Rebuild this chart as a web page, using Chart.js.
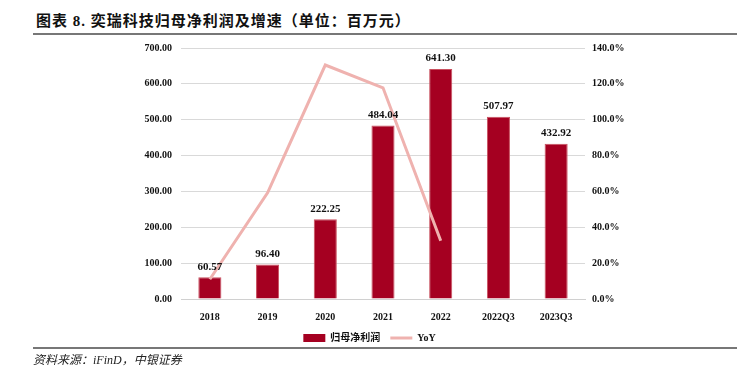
<!DOCTYPE html>
<html>
<head>
<meta charset="utf-8">
<script src="https://cdn.jsdelivr.net/npm/chart.js@4.4.0/dist/chart.umd.min.js"></script>
<style>
  html, body { margin: 0; padding: 0; background: #fff; }
  #wrap { position: relative; width: 739px; height: 375px; overflow: hidden; }
  #chart { position: absolute; left: 0; top: 0; }
  .title {
    position: absolute; left: 36px; top: 9px;
    font: bold 15px "Liberation Serif", "Noto Sans CJK SC", serif; color: #111;
    letter-spacing: 1px;
  }
  .rule { position: absolute; left: 33px; width: 704px; height: 2px; background: #777; }
  .source {
    position: absolute; left: 33px; top: 350px;
    font: italic 12px "Liberation Serif", "Noto Sans CJK SC", serif; color: #222;
  }
</style>
</head>
<body>
<div id="wrap">
  <div class="title">图表 8. 奕瑞科技归母净利润及增速（单位：百万元）</div>
  <div class="rule" style="top:33px"></div>
  <canvas id="chart" width="739" height="375"></canvas>
  <div class="rule" style="top:347px"></div>
  <div class="source">资料来源：iFinD，中银证券</div>
</div>
<script>
const categories = ['2018', '2019', '2020', '2021', '2022', '2022Q3', '2023Q3'];
const netProfit = [60.57, 96.40, 222.25, 484.04, 641.30, 507.97, 432.92];
const yoy = [11.0, 59.2, 130.5, 117.8, 32.5, null, null];
const leftTicks = [0, 100, 200, 300, 400, 500, 600, 700];
const rightTicks = [0, 20, 40, 60, 80, 100, 120, 140];

const serif = '"Liberation Serif", "Noto Sans CJK SC", serif';

const barLabels = {
  id: 'barLabels',
  afterDatasetsDraw(chart) {
    const ctx = chart.ctx;
    const meta = chart.getDatasetMeta(0);
    ctx.save();
    ctx.font = 'bold 11px ' + serif;
    ctx.fillStyle = '#111';
    ctx.textAlign = 'center';
    ctx.textBaseline = 'bottom';
    meta.data.forEach((bar, i) => {
      ctx.fillText(netProfit[i].toFixed(2), bar.x, bar.y - 5);
    });
    ctx.restore();
  }
};

new Chart(document.getElementById('chart'), {
  type: 'bar',
  data: {
    labels: categories,
    datasets: [
      {
        label: '归母净利润',
        data: netProfit,
        backgroundColor: '#A50021',
        borderColor: '#C9505F',
        borderWidth: 1,
        categoryPercentage: 1,
        barPercentage: 0.4,
        yAxisID: 'y',
        order: 2
      },
      {
        type: 'line',
        label: 'YoY',
        data: yoy,
        borderColor: '#EFB2AF',
        backgroundColor: '#EFB2AF',
        borderWidth: 3,
        pointRadius: 0,
        tension: 0,
        yAxisID: 'y1',
        order: 1
      }
    ]
  },
  options: {
    responsive: false,
    animation: false,
    layout: { padding: { top: 48, bottom: 22, left: 0, right: 0 } },
    plugins: {
      tooltip: { enabled: false },
      legend: {
        position: 'bottom',
        labels: {
          usePointStyle: true,
          pointStyleWidth: 22,
          boxHeight: 8,
          padding: 10,
          color: '#111',
          font: { family: serif, size: 10, weight: 'bold' },
          generateLabels(chart) {
            return chart.data.datasets.map((ds, i) => ({
              text: ds.label,
              fillStyle: ds.backgroundColor,
              strokeStyle: ds.type === 'line' ? ds.borderColor : ds.backgroundColor,
              lineWidth: ds.type === 'line' ? 3 : 0,
              pointStyle: ds.type === 'line' ? 'line' : 'rect',
              datasetIndex: i,
              fontColor: '#111'
            }));
          }
        }
      }
    },
    scales: {
      x: {
        grid: { display: false },
        border: { color: '#D0D0D0' },
        ticks: { color: '#111', font: { family: serif, size: 10, weight: 'bold' }, padding: 4 },
        afterFit(axis) { axis.height = 24; }
      },
      y: {
        position: 'left',
        min: 0,
        max: 700,
        afterBuildTicks(axis) { axis.ticks = leftTicks.map(v => ({ value: v })); },
        grid: { color: '#D9D9D9', lineWidth: 1, drawTicks: false },
        border: { display: false },
        ticks: {
          color: '#111',
          padding: 9,
          font: { family: serif, size: 10, weight: 'bold' },
          callback: v => v.toFixed(2)
        },
        afterFit(axis) { axis.width = 181; }
      },
      y1: {
        position: 'right',
        min: 0,
        max: 140,
        afterBuildTicks(axis) { axis.ticks = rightTicks.map(v => ({ value: v })); },
        grid: { display: false, drawTicks: false },
        border: { display: false },
        ticks: {
          color: '#111',
          padding: 7,
          font: { family: serif, size: 10, weight: 'bold' },
          callback: v => v.toFixed(1) + '%'
        },
        afterFit(axis) { axis.width = 154; }
      }
    }
  },
  plugins: [barLabels]
});
</script>
</body>
</html>
